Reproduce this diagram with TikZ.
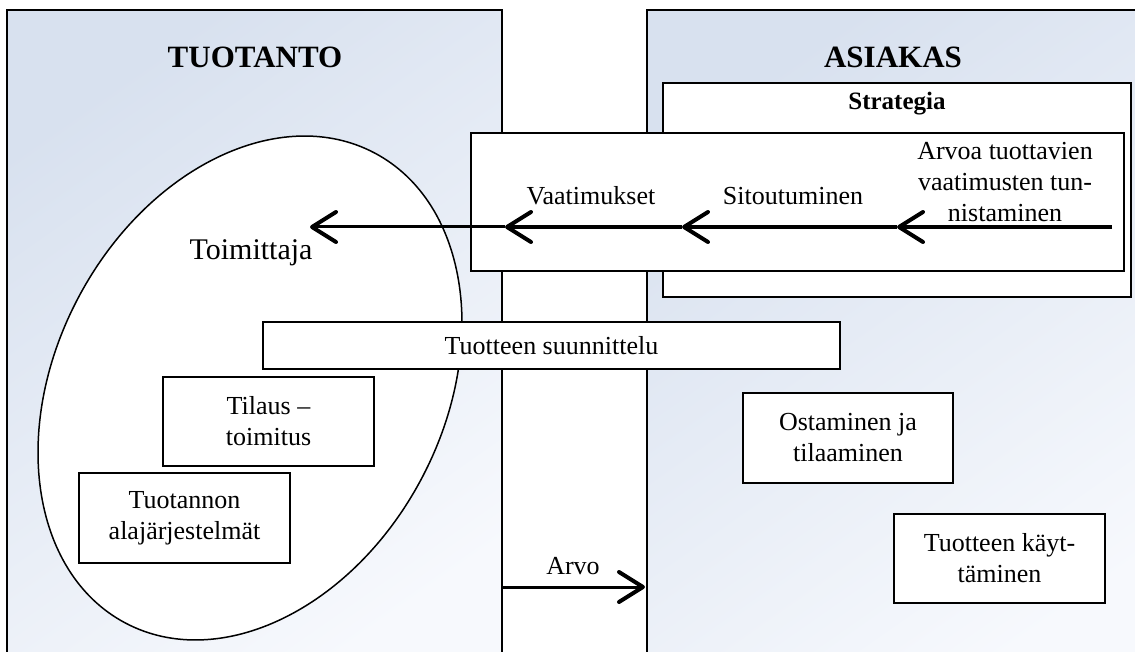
\documentclass[tikz,border=0pt]{standalone}
\usepackage{fontspec}
\setmainfont{Liberation Serif}
\usetikzlibrary{arrows.meta,shapes.geometric}
\definecolor{paneltop}{RGB}{216,225,239}
\definecolor{panelbot}{RGB}{247,249,253}

\begin{document}
\begin{tikzpicture}[x=1pt,y=1pt,
  panel/.style={draw=black,line width=2pt,top color=paneltop,bottom color=panelbot,shading angle=35},
  box/.style={draw=black,line width=1.6pt,fill=white,inner sep=0pt,align=center,
              font=\fontsize{26}{31}\selectfont},
  txt/.style={font=\fontsize{26}{31}\selectfont,align=center,inner sep=0pt},
  head/.style={font=\fontsize{31}{37}\selectfont\bfseries,inner sep=0pt},
  flow/.style={line width=4pt,-{Straight Barb[length=24pt,width=30pt,line width=4pt,round]}},
  ]
\useasboundingbox (0,0) rectangle (1135,-652);
\clip (0,0) rectangle (1135,-652);

% the two sides: production and customer
\path[panel] (7,-10) rectangle (502,-690);
\path[panel] (647,-10) rectangle (1170,-690);
\node[head] (tuotanto) at (255,-57) {TUOTANTO};
\node[head] (asiakas) at (893,-57) {ASIAKAS};

% supplier region
\node[draw=black,line width=1.5pt,fill=white,ellipse,minimum width=532,minimum height=388,
      rotate=62] (supplier) at (250,-388) {};
\node[font=\fontsize{30}{36}\selectfont,inner sep=0pt] (toim) at (251,-253) {Toimittaja};

% strategy frame and requirement chain
\node[box,minimum width=468,minimum height=214] (strat) at (897,-190) {};
\node[font=\fontsize{25}{30}\selectfont\bfseries,inner sep=0pt] (stratlbl) at (897,-104) {Strategia};
\node[box,minimum width=653,minimum height=138] (chain) at (797.5,-202) {};

\node[txt] (arvoa) at (1005,-182) {Arvoa tuottavien\\vaatimusten tun-\\nistaminen};
\node[txt] (sitout) at (793,-196) {Sitoutuminen};
\node[txt] (vaat) at (591,-196) {Vaatimukset};

\coordinate (c0) at (1112,-227);
\coordinate (c1) at (897,-227);
\coordinate (c2) at (682,-227);
\coordinate (c3) at (505,-227);
\coordinate (c4) at (310,-227);
\draw[flow] (c0) -- (c1);
\draw[flow] (c1) -- (c2);
\draw[flow] (c2) -- (c3);
\draw[flow,line width=3pt] (c3) -- (c4);

% activities
\node[box,minimum width=577,minimum height=47] (design) at (551.5,-345.5) {Tuotteen suunnittelu};
\node[box,minimum width=211,minimum height=89] (order) at (268.5,-421.5) {Tilaus --\\toimitus};
\node[box,minimum width=211,minimum height=90] (subsys) at (184.5,-518) {Tuotannon\\alajärjestelmät};
\node[box,minimum width=210,minimum height=90] (buy) at (848,-438) {Ostaminen ja\\tilaaminen};
\node[box,minimum width=211,minimum height=89] (use) at (999.5,-558.5) {Tuotteen käyt-\\täminen};

% value delivered to the customer
\node[txt] (arvo) at (573,-566) {Arvo};
\coordinate (v0) at (503,-587);
\coordinate (v1) at (645,-587);
\draw[flow,line width=3pt] (v0) -- (v1);
\end{tikzpicture}
\end{document}
